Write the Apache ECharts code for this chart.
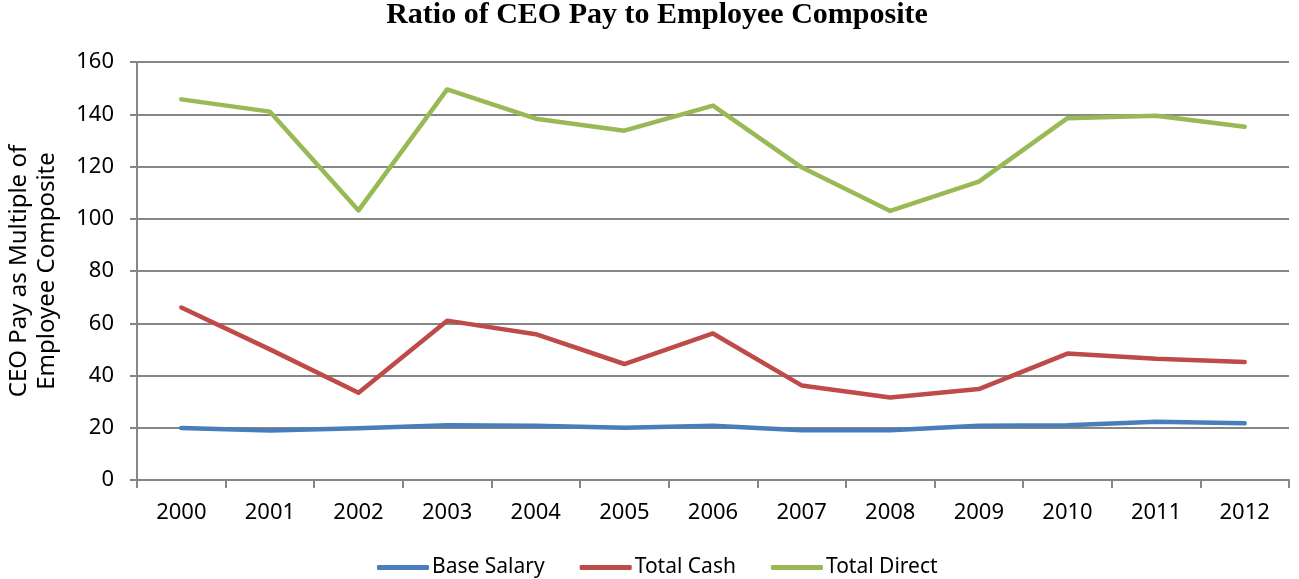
<!DOCTYPE html>
<html>
<head>
<meta charset="utf-8">
<script src="https://cdn.jsdelivr.net/npm/echarts@6/dist/echarts.min.js"></script>
<style>html,body{margin:0;padding:0;background:#fff;}#c{width:1299px;height:579px;}</style>
</head>
<body>
<div id="c"></div>
<script>
const categories = ['2000','2001','2002','2003','2004','2005','2006','2007','2008','2009','2010','2011','2012'];
const baseSalary = [19.9, 18.9, 19.8, 21.0, 20.8, 20.0, 20.8, 19.0, 19.0, 20.8, 21.0, 22.3, 21.7];
const totalCash = [66.0, 50.0, 33.4, 61.0, 55.8, 44.4, 56.1, 36.2, 31.6, 34.8, 48.4, 46.4, 45.2];
const totalDirect = [145.7, 141.0, 103.2, 149.5, 138.3, 133.7, 143.3, 119.7, 103.0, 114.2, 138.5, 139.4, 135.2];
const yTicks = {min: 0, max: 160, interval: 20};

const font = 'Noto Sans';
const chart = echarts.init(document.getElementById('c'));
const mk = (name, data, color) => ({
  name, type: 'line', data, symbol: 'none', smooth: false,
  lineStyle: {width: 4.5, color, cap: 'round', join: 'round'}, itemStyle: {color}
});
chart.setOption({
  animation: false,
  title: {
    text: 'Ratio of CEO Pay to Employee Composite',
    left: 652, textAlign: 'center', top: -5,
    textStyle: {fontFamily: 'Liberation Serif', fontWeight: 'bold', fontSize: 30, color: '#000'}
  },
  legend: {
    bottom: -4, left: 372,
    itemWidth: 52, itemHeight: 5, itemGap: 35,
    icon: 'roundRect',
    textStyle: {fontFamily: font, fontSize: 21, color: '#000', padding: [0,0,0,-2]},
    data: ['Base Salary', 'Total Cash', 'Total Direct']
  },
  grid: {left: 137, right: 10, top: 62, bottom: 99, containLabel: false, outerBoundsMode: 'none'},
  xAxis: {
    type: 'category', data: categories, boundaryGap: true,
    axisLine: {lineStyle: {color: '#868686', width: 2}},
    axisTick: {show: true, length: 8, lineStyle: {color: '#868686', width: 2}},
    axisLabel: {margin: 22, fontFamily: font, fontSize: 22, color: '#000'},
    splitLine: {show: false}
  },
  yAxis: {
    type: 'value', min: yTicks.min, max: yTicks.max, interval: yTicks.interval,
    name: 'CEO Pay as Multiple of\nEmployee Composite',
    nameLocation: 'middle', nameGap: 76, nameRotate: 90,
    nameTextStyle: {fontFamily: font, fontSize: 24, color: '#000', lineHeight: 28},
    axisLine: {show: true, lineStyle: {color: '#868686', width: 2}},
    axisTick: {show: true, length: 7, lineStyle: {color: '#868686', width: 2}},
    axisLabel: {margin: 23, fontFamily: font, fontSize: 22, color: '#000'},
    splitLine: {show: true, lineStyle: {color: '#868686', width: 2}}
  },
  series: [
    mk('Base Salary', baseSalary, '#4a7ebb'),
    mk('Total Cash', totalCash, '#be4b48'),
    mk('Total Direct', totalDirect, '#98b954')
  ]
});
</script>
</body>
</html>
